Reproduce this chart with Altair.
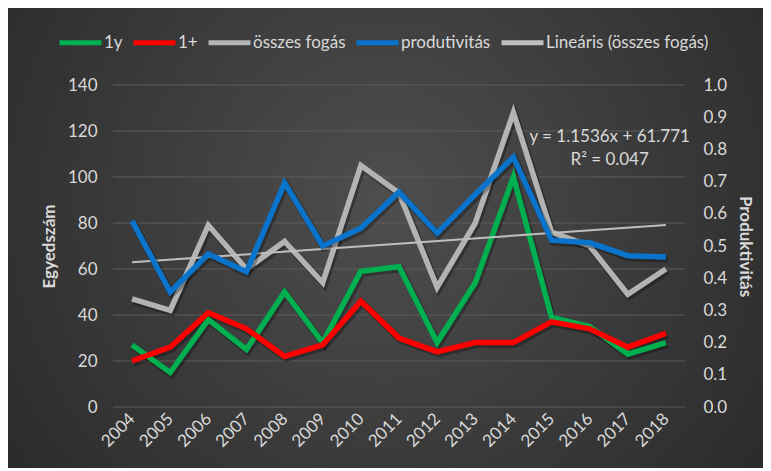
import altair as alt
import pandas as pd

years = [str(y) for y in range(2004, 2019)]
s_1y = [27, 15, 38, 25, 50, 28, 59, 61, 28, 54, 100, 39, 35, 23, 28]
s_1plus = [20, 26, 41, 34, 22, 27, 46, 30, 24, 28, 28, 37, 34, 26, 32]
s_osszes = [47, 42, 79, 60, 72, 54, 105, 93, 52, 80, 128, 76, 70, 49, 60]
s_prod = [0.578, 0.357, 0.475, 0.42, 0.696, 0.50, 0.555, 0.668, 0.54, 0.66, 0.776, 0.518, 0.51, 0.47, 0.466]
trend_years = ["2004", "2018"]
trend_vals = [62.9, 79.1]
grid_vals = [0, 20, 40, 60, 80, 100, 120, 140]
eq_texts = ["y = 1.1536x + 61.771", "R² = 0.047"]
eq_vals = [117.5, 107.5]
eq_year = "2016"

series_names = ["1y", "1+", "összes fogás", "produtivitás", "Lineáris (összes fogás)"]
series_colors = ["#00b050", "#ff0000", "#b3b3b3", "#0a74cc", "#bfbfbf"]

rows = []
for name, vals in [("1y", s_1y), ("1+", s_1plus), ("összes fogás", s_osszes)]:
    for y, v in zip(years, vals):
        rows.append({"year": y, "value": v, "series": name})
left_df = pd.DataFrame(rows)
trend_df = pd.DataFrame({"year": trend_years, "value": trend_vals, "series": "Lineáris (összes fogás)"})
prod_df = pd.DataFrame({"year": years, "value": s_prod, "series": "produtivitás"})
grid_df = pd.DataFrame({"g": grid_vals})
eq_df = pd.DataFrame({"year": eq_year, "value": eq_vals, "t": eq_texts})

FONT = "Lato"
TXT = "#d9d9d9"

xenc = alt.X("year:O", scale=alt.Scale(type="point", domain=years, padding=0.5),
             axis=alt.Axis(title=None, labelAngle=-45, labelAlign="right", labelBaseline="middle",
                           labelPadding=9, zindex=2))
color_enc = alt.Color(
    "series:N", scale=alt.Scale(domain=series_names, range=series_colors),
    legend=alt.Legend(
        title=None, orient="none", legendX=-56, legendY=-66,
        direction="horizontal", symbolType="stroke",
        symbolSize=1764, symbolStrokeWidth=5,
        labelFontSize=17, labelColor=TXT, labelFont=FONT, labelLimit=400,
        columnPadding=0, labelOffset=0, zindex=2,
    ))

yleft_scale = alt.Scale(domain=[0, 140])
yleft_axis = alt.Axis(title="Egyedszám", values=grid_vals, orient="left", labelPadding=16,
                      titlePadding=9, zindex=2)

bg = alt.Chart(pd.DataFrame({"a": [0]})).mark_rect(
    fill={"gradient": "radial", "x1": 0.5, "y1": 0.45, "r1": 0.0, "x2": 0.5, "y2": 0.45, "r2": 0.75,
          "stops": [{"offset": 0, "color": "#4e4e4e"}, {"offset": 1, "color": "#232323"}]}
).encode(x=alt.value(-105), x2=alt.value(650), y=alt.value(-77), y2=alt.value(383))

grid = alt.Chart(grid_df).mark_rule(color="#5c5c5c", strokeWidth=1).encode(
    y=alt.Y("g:Q", scale=yleft_scale, axis=yleft_axis),
    x=alt.value(0), x2=alt.value(572))

left_shadow = alt.Chart(left_df).mark_line(
    strokeWidth=7, strokeJoin="miter", color="#000000", opacity=0.3, xOffset=1.5, yOffset=2).encode(
    x=xenc,
    y=alt.Y("value:Q", scale=yleft_scale, axis=yleft_axis),
    detail="series:N",
)

left_lines = alt.Chart(left_df).mark_line(strokeWidth=5.5, strokeJoin="miter").encode(
    x=xenc,
    y=alt.Y("value:Q", scale=yleft_scale, axis=yleft_axis),
    color=color_enc,
    detail="series:N",
)

trend = alt.Chart(trend_df).mark_line(strokeWidth=2).encode(
    x=xenc,
    y=alt.Y("value:Q", scale=yleft_scale, axis=yleft_axis),
    color=color_enc,
)

eq = alt.Chart(eq_df).mark_text(font=FONT, fontSize=17, color=TXT, dx=20, align="center").encode(
    x=xenc,
    y=alt.Y("value:Q", scale=yleft_scale, axis=yleft_axis),
    text="t:N")

left = alt.layer(bg, grid, left_shadow, left_lines, trend, eq)

yright_scale = alt.Scale(domain=[0, 1])
yright_axis = alt.Axis(title="Produktivitás", orient="right", values=[i / 10 for i in range(11)],
                       format=".1f", labelPadding=18, titlePadding=9, zindex=2)

right_shadow = alt.Chart(prod_df).mark_line(
    strokeWidth=7, strokeJoin="miter", color="#000000", opacity=0.3, xOffset=1.5, yOffset=2).encode(
    x=xenc,
    y=alt.Y("value:Q", scale=yright_scale, axis=yright_axis),
)

right_line = alt.Chart(prod_df).mark_line(strokeWidth=5.5, strokeJoin="miter").encode(
    x=xenc,
    y=alt.Y("value:Q", scale=yright_scale, axis=yright_axis),
    color=color_enc,
)

right = alt.layer(right_shadow, right_line)

chart = alt.layer(left, right).resolve_scale(y="independent").properties(
    width=572, height=322,
    autosize=alt.AutoSizeParams(type="none"),
    padding={"left": 105, "top": 77, "right": 78, "bottom": 61},
    background="#2a2a2a",
).configure_axis(
    labelFont=FONT, labelFontSize=17, labelColor=TXT,
    titleFont=FONT, titleFontSize=17, titleColor=TXT, titleFontWeight="bold",
    domain=False, ticks=False, grid=False,
).configure_view(strokeWidth=0)

chart.save("out.html", embed_options={"renderer": "svg", "actions": False})
